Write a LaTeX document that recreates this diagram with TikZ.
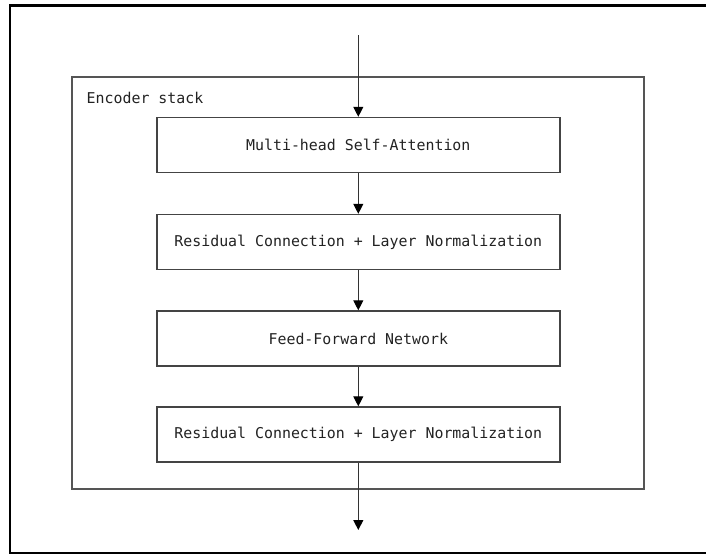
\documentclass[tikz,border=0pt]{standalone}
\usepackage{fontspec}
\setmonofont{DejaVu Sans Mono}
\usetikzlibrary{arrows.meta}
\definecolor{edgegray}{HTML}{444444}
\definecolor{framegray}{HTML}{555555}
\definecolor{linegray}{HTML}{333333}
\definecolor{textgray}{HTML}{222222}
\tikzset{
  layerbox/.style={draw=edgegray, line width=1.4pt, minimum width=403pt, minimum height=55pt,
    inner sep=0pt, font=\ttfamily\fontsize{14.9}{17}\selectfont, text=textgray},
  flow/.style={draw=linegray, line width=1.1pt, -{Triangle[length=10pt,width=10pt,fill=black,color=black]}},
}
\begin{document}
\begin{tikzpicture}[x=1pt,y=-1pt]
  \useasboundingbox (0,0) rectangle (706,554);
  \clip (0,0) rectangle (706,554);
  % page frame, open on the right
  \draw[line width=2.6pt, black] (10,5.5) rectangle (720,553);
  % encoder container
  \draw[framegray, line width=1.6pt] (72,77) rectangle (644,489);
  \node[anchor=west, font=\ttfamily\fontsize{14.9}{17}\selectfont, text=textgray, inner sep=0pt] (lbl) at (86.5,97.5) {Encoder stack};
  % layers
  \node[layerbox] (mhsa) at (358.3,145) {Multi-head Self-Attention};
  \node[layerbox] (addnorm1) at (358.3,242) {Residual Connection + Layer Normalization};
  \node[layerbox] (ffn) at (358.3,338.5) {Feed-Forward Network};
  \node[layerbox] (addnorm2) at (358.3,434.5) {Residual Connection + Layer Normalization};
  \coordinate (input) at (358.3,35);
  \coordinate (output) at (358.3,530);
  % connectors
  \draw[flow] (input) -- (mhsa.north);
  \draw[flow] (mhsa) -- (addnorm1);
  \draw[flow] (addnorm1) -- (ffn);
  \draw[flow] (ffn) -- (addnorm2);
  \draw[flow] (addnorm2.south) -- (output);
\end{tikzpicture}
\end{document}
